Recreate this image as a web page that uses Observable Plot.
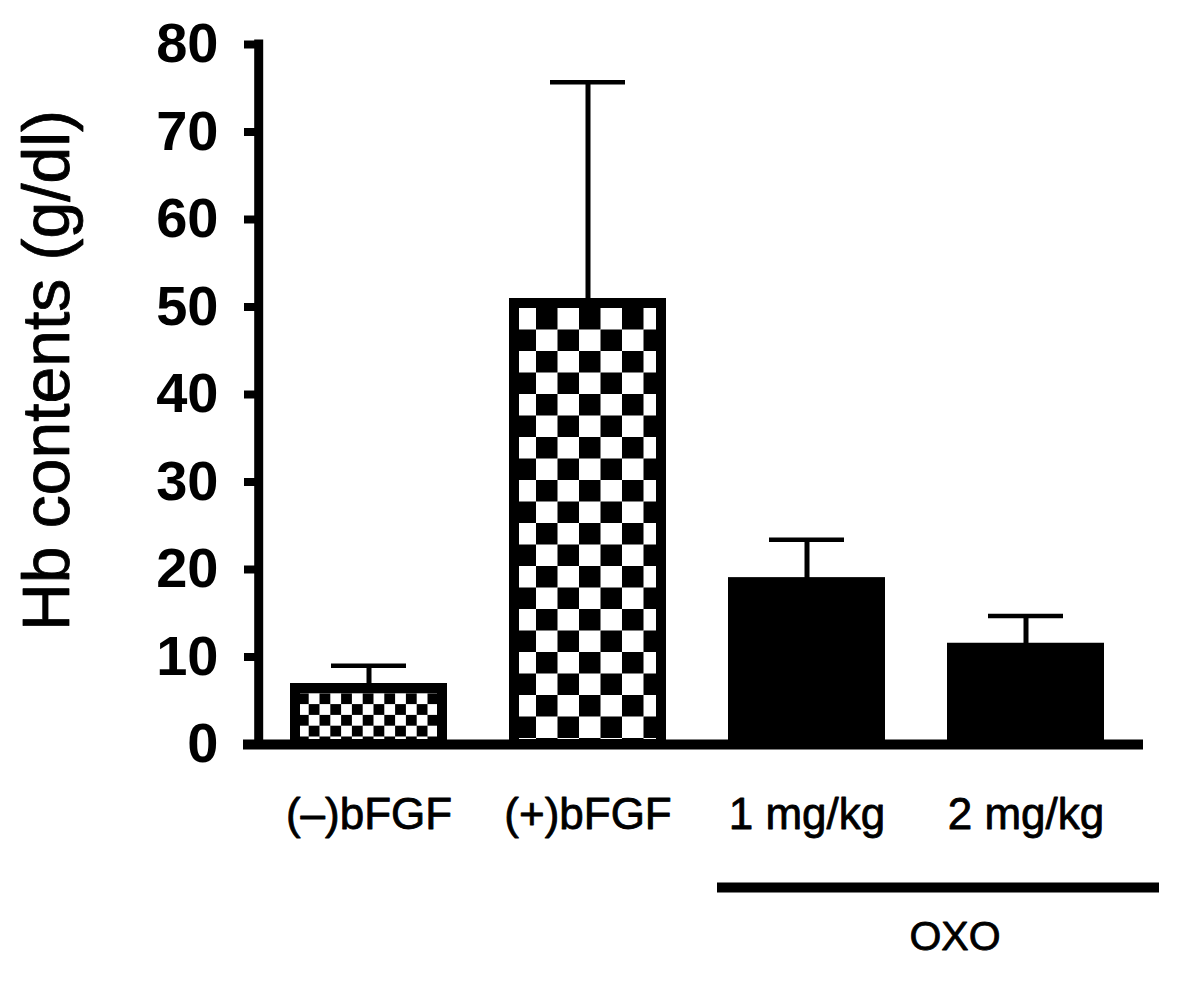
<!DOCTYPE html>
<html><head><meta charset="utf-8">
<script src="https://cdn.jsdelivr.net/npm/d3@7"></script>
<script src="https://cdn.jsdelivr.net/npm/@observablehq/plot@0.6"></script>
<style>body{margin:0;background:#fff;}</style>
</head><body><div id="chart"></div>
<script>
const categories = ["(–)bFGF", "(+)bFGF", "1 mg/kg", "2 mg/kg"];
const means = [6.4, 50.4, 18.5, 11.0];
const errors = [2.6, 25.3, 4.9, 3.7];
const fills = ["url(#checkSmall)", "url(#checkLarge)", "black", "black"];
const yTicks = [0, 10, 20, 30, 40, 50, 60, 70, 80];
const yLabel = "Hb contents (g/dl)";
const groupLabels = ["OXO"];
const groupFrom = ["1 mg/kg"];
const groupTo = ["2 mg/kg"];

const data = categories.map((c, i) => ({cat: c, mean: means[i], top: means[i] + errors[i], fill: fills[i]}));
const groups = groupLabels.map((l, i) => ({label: l, from: groupFrom[i], to: groupTo[i]}));
const font = "'Liberation Sans', Arial, Helvetica, sans-serif";
const textStyle = {fill: "black", stroke: "black", strokeWidth: 0.8};

const chart = Plot.plot({
  width: 1200, height: 988,
  marginLeft: 258, marginRight: 64, marginTop: 44, marginBottom: 244,
  style: {fontFamily: font, color: "black", background: "white", overflow: "visible"},
  x: {domain: categories, paddingInner: 0.327, paddingOuter: 0.1635, axis: null},
  y: {domain: [0, 80]},
  color: {type: "identity"},
  marks: [
    Plot.ruleX(data, {x: "cat", y1: "mean", y2: "top", strokeWidth: 5}),
    Plot.barY(data, {x: "cat", y: "mean", fill: "fill", stroke: "black", strokeWidth: 10}),
    Plot.tickY(data, {x: "cat", y: "top", strokeWidth: 4.5, insetLeft: 36, insetRight: 36}),
    // x axis line
    Plot.ruleY([0], {strokeWidth: 10, insetLeft: -15, insetRight: -7}),
    // y axis line (placed at the left edge of the frame)
    Plot.ruleX(categories.slice(0, 1), {x: d => d, y1: 0, y2: 80, dx: -110.3, strokeWidth: 9, strokeLinecap: "square"}),
    Plot.axisY({ticks: yTicks, tickSize: 14, tickPadding: 26, strokeWidth: 8, fontSize: 56, fontWeight: "bold", label: null}),
    Plot.text(data, {x: "cat", y: 0, text: "cat", dy: 84, lineAnchor: "bottom", fontSize: 44, ...textStyle}),
    Plot.text([yLabel], {text: d => d, frameAnchor: "left", textAnchor: "middle", rotate: -90, dx: -211, dy: -24, fontSize: 66, letterSpacing: 2, ...textStyle}),
    Plot.ruleY(groups, {y: 0, x1: "from", x2: "to", dy: 143, strokeWidth: 10, insetLeft: -16, insetRight: -60}),
    Plot.text(groups, {x: "from", y: 0, text: "label", dx: 148, dy: 192, fontSize: 41, ...textStyle})
  ]
});

// checkerboard patterns aligned to the bars
const xs = chart.scale("x"), ys = chart.scale("y");
const ns = "http://www.w3.org/2000/svg";
const defs = document.createElementNS(ns, "defs");
function addChecker(id, cell, x0, y0) {
  const p = document.createElementNS(ns, "pattern");
  p.setAttribute("id", id);
  p.setAttribute("patternUnits", "userSpaceOnUse");
  p.setAttribute("x", x0); p.setAttribute("y", y0);
  p.setAttribute("width", 2 * cell); p.setAttribute("height", 2 * cell);
  const rects = [[0, 0, 2 * cell, "white"], [0, 0, cell, "black"], [cell, cell, cell, "black"]];
  for (const [x, y, s, f] of rects) {
    const r = document.createElementNS(ns, "rect");
    r.setAttribute("x", x); r.setAttribute("y", y);
    r.setAttribute("width", s); r.setAttribute("height", s);
    r.setAttribute("fill", f);
    p.appendChild(r);
  }
  defs.appendChild(p);
}
addChecker("checkSmall", 10.8, xs.apply(categories[0]) + 2.9, ys.apply(means[0]) + 5.3);
addChecker("checkLarge", 21.5, xs.apply(categories[1]) + 22, ys.apply(means[1]) + 5);
chart.insertBefore(defs, chart.firstChild);
document.getElementById("chart").appendChild(chart);
</script>
</body></html>
